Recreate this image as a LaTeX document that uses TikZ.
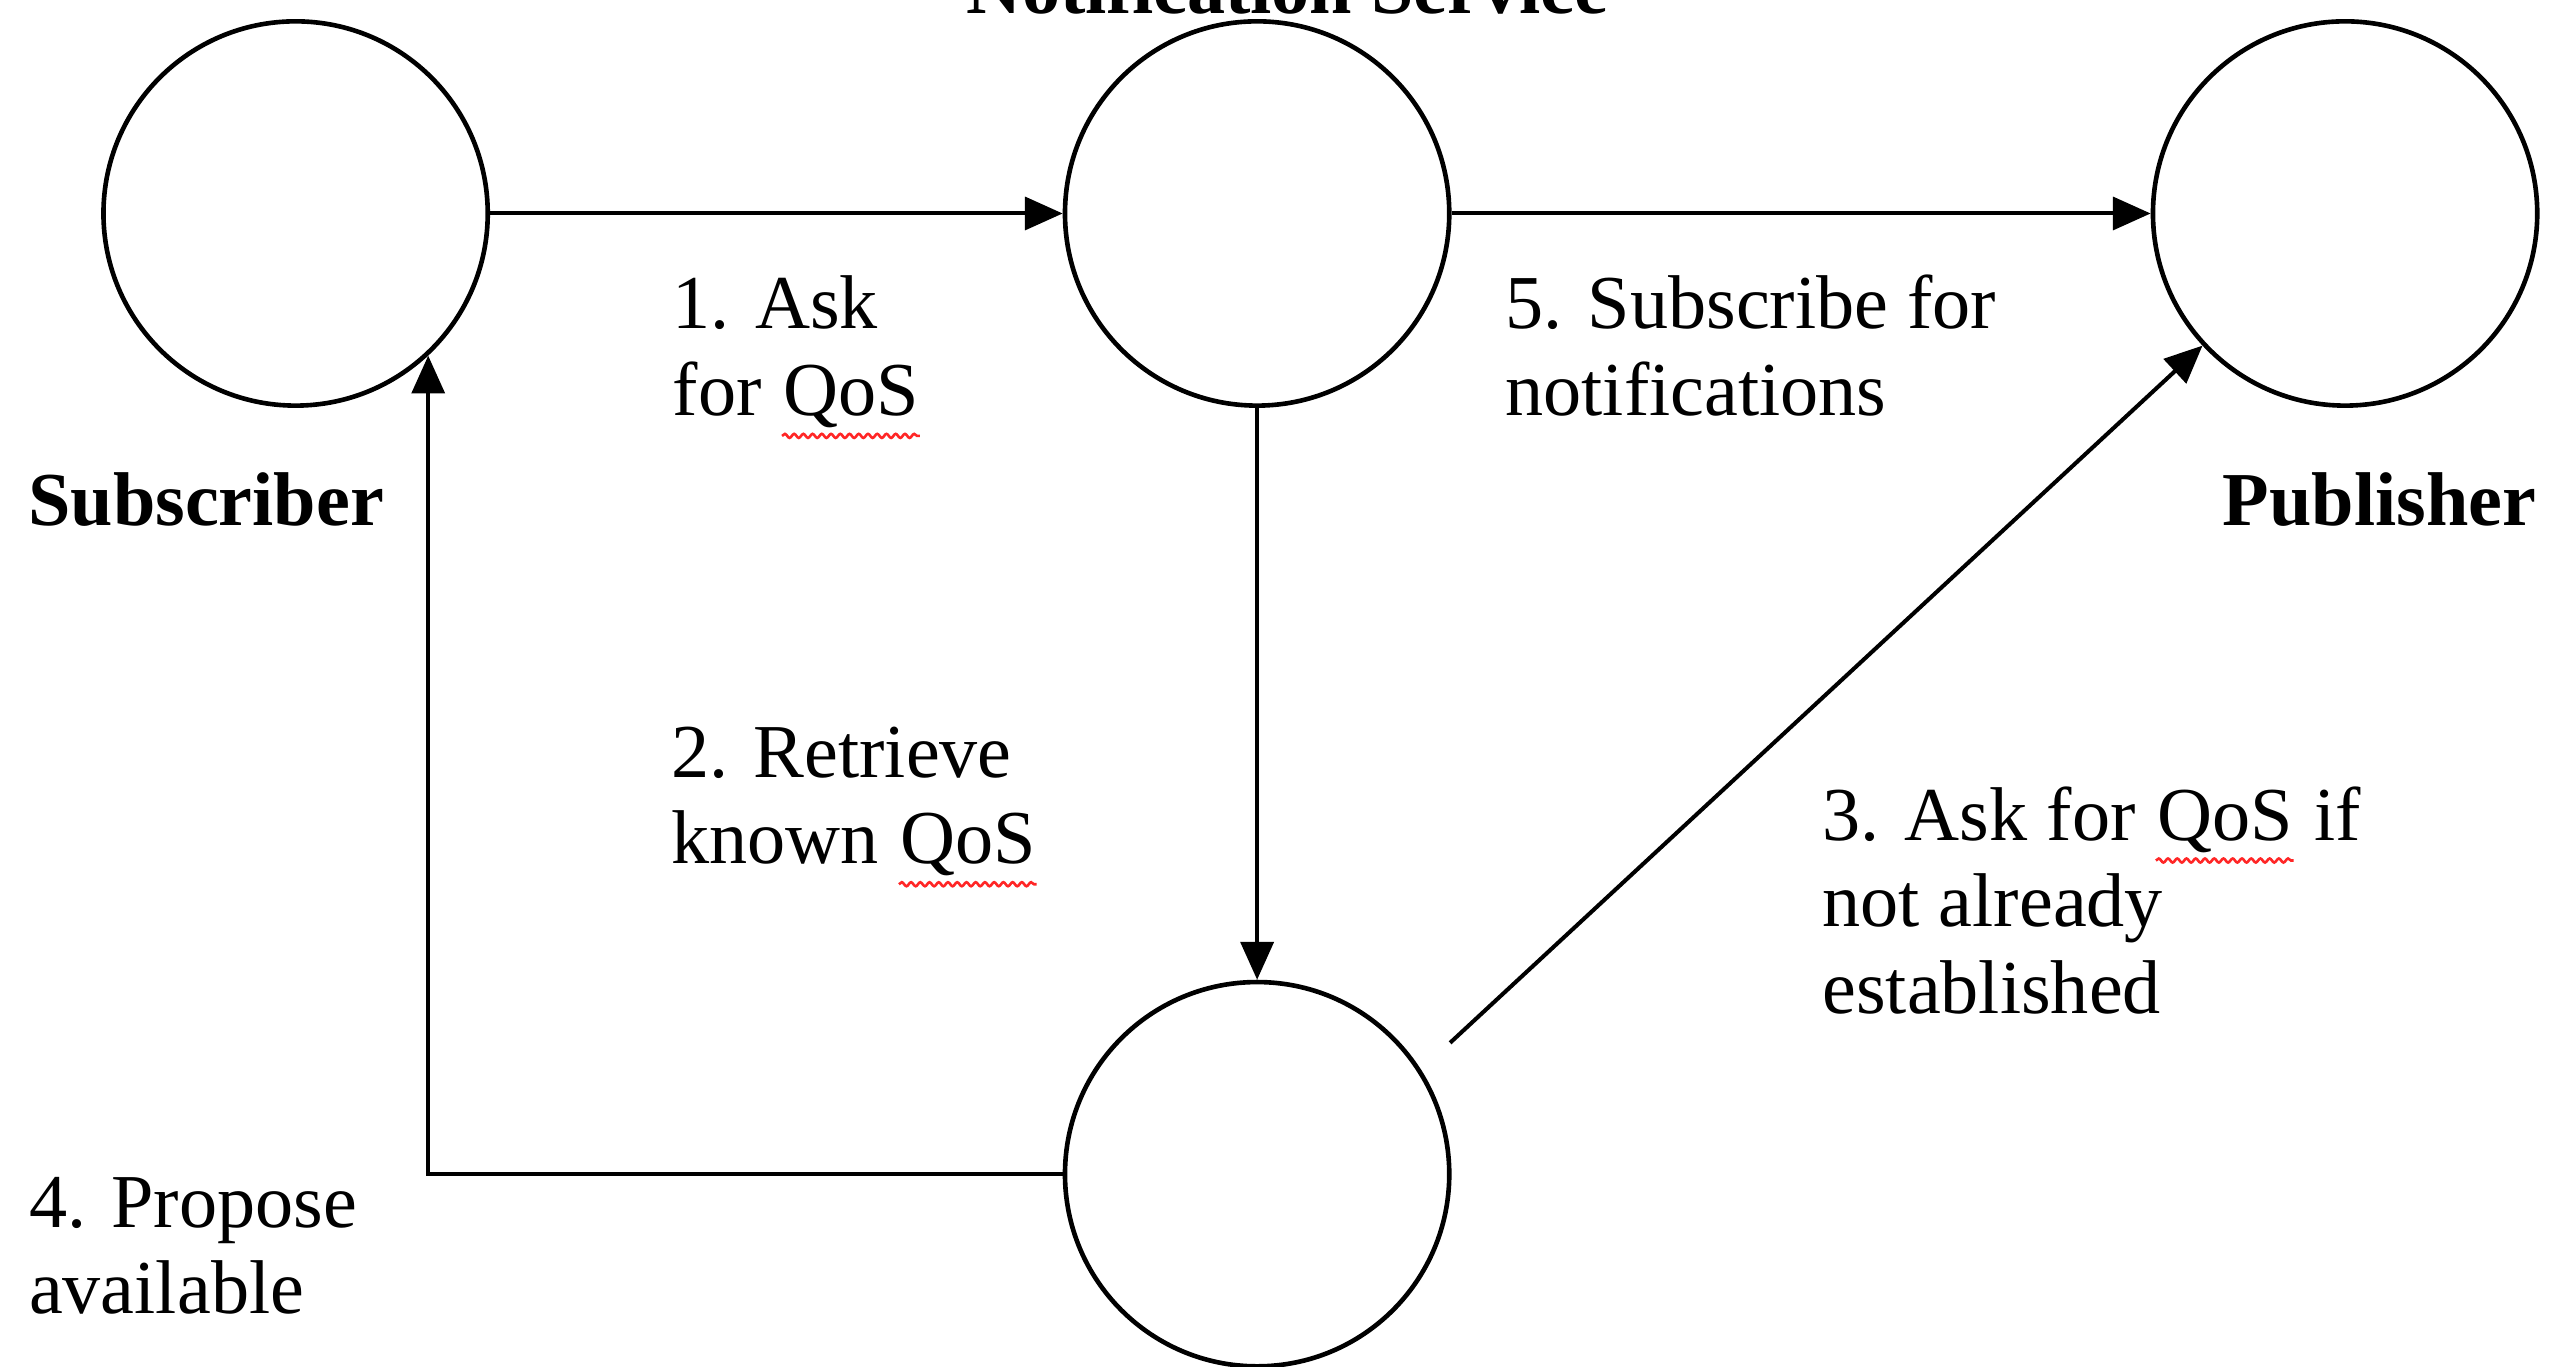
\documentclass[tikz,border=0pt]{standalone}
\usepackage{fontspec}
\setmainfont{Liberation Serif}
\usetikzlibrary{arrows.meta, decorations.pathmorphing}

% red wavy spell-check mark under a word
\newcommand{\spellmark}[1]{\tikz[baseline=(spellword.base)]{%
	\node[inner sep=0pt, anchor=base] (spellword) {#1};
	\draw[red!85, line width=0.45pt, decorate, decoration={snake, amplitude=0.35pt, segment length=1.6pt}]
		([yshift=-1.2pt]spellword.south west) -- ([yshift=-1.2pt]spellword.south east);}}

\begin{document}
\begin{tikzpicture}[
		font=\fontsize{13.2}{15}\selectfont,
		>={Triangle[length=2.3mm, width=2mm]},
		actor/.style={circle, draw, line width=0.8pt, minimum size=2.34cm, inner sep=0pt},
		flow/.style={->, line width=0.7pt},
		steptext/.style={anchor=base west, align=left, inner sep=0pt}
	]
		\useasboundingbox (0, 0) rectangle (15.68, -8.32);
		
		% Circles
		\node[actor] (subscriber) at (1.80, -1.30) {};
		\node[actor] (notifier) at (7.655, -1.30) {};
		\node[actor] (publisher) at (14.28, -1.30) {};
		\node[actor] (qosstore) at (7.655, -7.15) {};
		
		% Names
		\node[inner sep=0pt, anchor=base] (notifiername) at (7.84, -0.08) {\bfseries Notification Service};
		\node[inner sep=0pt, anchor=base west] (subscribername) at (0.166, -3.20) {\bfseries Subscriber};
		\node[inner sep=0pt, anchor=base east] (publishername) at (15.45, -3.20) {\bfseries Publisher};
		
		% Arrows
		\coordinate (askstart) at (8.83, -6.35);
		\draw[flow] (subscriber.east) -- (notifier.west);
		\draw[flow] (notifier.east) -- (publisher.west);
		\draw[flow] (notifier.south) -- (qosstore.north);
		\draw[flow] (askstart) -- (publisher);
		\draw[flow] (qosstore.west) -| (subscriber.-47);
		
		% Step labels (placed at the baseline of their last line)
		\node[steptext] (askqos) at (4.09, -2.53) {1. Ask\\for \spellmark{QoS}};
		\node[steptext] (subscribe) at (9.16, -2.53) {5. Subscribe for\\notifications};
		\node[steptext] (retrieve) at (4.08, -5.26) {2. Retrieve\\known \spellmark{QoS}};
		\node[steptext] (askpub) at (11.09, -6.17) {3. Ask for \spellmark{QoS} if\\not already\\established};
		\node[steptext] (propose) at (0.17, -8.00) {4. Propose\\available};
	\end{tikzpicture}
\end{document}
